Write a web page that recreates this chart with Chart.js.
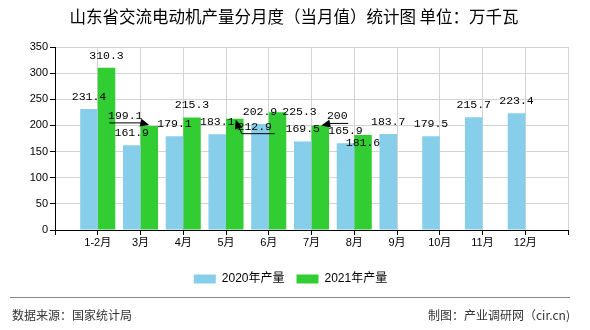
<!DOCTYPE html>
<html>
<head>
<meta charset="utf-8">
<script src="https://cdn.jsdelivr.net/npm/chart.js@4/dist/chart.umd.min.js"></script>
<style>
  html, body { margin: 0; padding: 0; background: #fff; }
  #wrap { width: 590px; height: 330px; position: relative; }
</style>
</head>
<body>
<div id="wrap"><canvas id="grafica" width="590" height="330"></canvas></div>
<script>
// 月份
const meses = ['1-2月', '3月', '4月', '5月', '6月', '7月', '8月', '9月', '10月', '11月', '12月'];
// 产量（万千瓦）
const produccion2020 = [231.4, 161.9, 179.1, 183.1, 202.9, 169.5, 165.9, 183.7, 179.5, 215.7, 223.4];
const produccion2021 = [310.3, 199.1, 215.3, 212.9, 225.3, 200, 181.6];
const ticksY = [0, 50, 100, 150, 200, 250, 300, 350];

const titulo = '山东省交流电动机产量分月度（当月值）统计图 单位：万千瓦';
const fuente = '数据来源：国家统计局';
const autor = '制图：产业调研网（cir.cn)';

// eje x con un hueco vacio a cada lado
const etiquetas = [''].concat(meses, ['']);
const rellenar = arr => {
  const r = [null].concat(arr);
  while (r.length < etiquetas.length) r.push(null);
  return r;
};

// desplazamiento de etiquetas que se solapan (dataset-indice)
const ajustes = {
  '1-1': { dx: -24, dy: 2, flecha: 'izq' },
  '1-3': { dx: 20, dy: 20, flecha: 'abajo' },
  '1-4': { dx: 22, dy: 12 },
  '1-5': { dx: 17, dy: 3, flecha: 'der' },
  '1-6': { dx: 0, dy: 20 }
};

function punta(ctx, x, y, ang) {
  ctx.save();
  ctx.translate(x, y);
  ctx.rotate(ang);
  ctx.beginPath();
  ctx.moveTo(0, 0);
  ctx.lineTo(-9, -4);
  ctx.lineTo(-9, 4);
  ctx.closePath();
  ctx.fill();
  ctx.restore();
}

const etiquetasValor = {
  id: 'etiquetasValor',
  afterDatasetsDraw(chart) {
    const ctx = chart.ctx;
    ctx.save();
    ctx.font = '11.5px "Liberation Mono", monospace';
    ctx.fillStyle = '#000';
    ctx.strokeStyle = '#000';
    ctx.lineWidth = 1;
    ctx.textAlign = 'center';
    ctx.textBaseline = 'middle';
    chart.data.datasets.forEach((ds, d) => {
      const meta = chart.getDatasetMeta(d);
      meta.data.forEach((el, i) => {
        const v = ds.data[i];
        if (v === null || v === undefined) return;
        const a = ajustes[d + '-' + (i - 1)] || { dx: 0, dy: 0 };
        const x = el.x + a.dx;
        const y = el.y - 12 + a.dy;
        ctx.fillText(String(v), x, y);
        if (a.flecha === 'izq') {
          ctx.beginPath();
          ctx.moveTo(el.x - 40, el.y - 3);
          ctx.lineTo(el.x - 6, el.y - 3);
          ctx.stroke();
          punta(ctx, el.x, el.y - 1, 0.25);
        } else if (a.flecha === 'abajo') {
          ctx.beginPath();
          ctx.moveTo(el.x + 40, el.y + 15);
          ctx.lineTo(el.x + 7, el.y + 15);
          ctx.lineTo(el.x + 3, el.y + 6);
          ctx.stroke();
          punta(ctx, el.x + 1, el.y + 1, -1.9);
        } else if (a.flecha === 'der') {
          ctx.beginPath();
          ctx.moveTo(el.x + 28, el.y - 2);
          ctx.lineTo(el.x + 7, el.y - 2);
          ctx.stroke();
          punta(ctx, el.x + 1, el.y, Math.PI - 0.2);
        }
      });
    });
    ctx.restore();
  }
};

// titulo y pie
const textos = {
  id: 'textos',
  afterDraw(chart) {
    const ctx = chart.ctx;
    ctx.save();
    ctx.fillStyle = '#000';
    ctx.textBaseline = 'middle';
    ctx.textAlign = 'center';
    ctx.font = '16.5px "Noto Sans CJK SC", sans-serif';
    ctx.fillText(titulo, 294, 17);
    ctx.strokeStyle = '#888';
    ctx.lineWidth = 1;
    ctx.beginPath();
    ctx.moveTo(10, 297.5);
    ctx.lineTo(570, 297.5);
    ctx.stroke();
    ctx.fillStyle = '#333';
    ctx.font = '12px "Noto Sans CJK SC", sans-serif';
    ctx.textAlign = 'left';
    ctx.fillText(fuente, 12, 315);
    ctx.textAlign = 'right';
    ctx.fillText(autor, 570, 315);
    ctx.restore();
  }
};

const grafica = document.getElementById('grafica');
var chart = new Chart(grafica, {
  type: 'bar',
  data: {
    labels: etiquetas,
    datasets: [
      {
        label: '2020年产量',
        backgroundColor: '#87CEEB',
        data: rellenar(produccion2020)
      },
      {
        label: '2021年产量',
        backgroundColor: '#32CD32',
        data: rellenar(produccion2021)
      }
    ]
  },
  options: {
    responsive: false,
    animation: false,
    devicePixelRatio: 1,
    categoryPercentage: 0.82,
    barPercentage: 1,
    layout: { padding: { left: 13, right: 22, top: 47, bottom: 35 } },
    plugins: {
      title: { display: false },
      tooltip: { enabled: false },
      legend: {
        position: 'bottom',
        labels: {
          boxWidth: 22,
          boxHeight: 9,
          padding: 12,
          color: '#000',
          font: { size: 12, family: '"Liberation Sans", "Noto Sans CJK SC", sans-serif' }
        }
      }
    },
    scales: {
      x: {
        offset: false,
        grid: { offset: false, color: '#d3d3d3', tickColor: '#000', tickLength: 5 },
        border: { color: '#000' },
        ticks: {
          color: '#000',
          padding: 1,
          maxRotation: 0,
          autoSkip: false,
          font: { size: 11, family: '"Liberation Sans", "Noto Sans CJK SC", sans-serif' }
        },
        afterFit(scale) { scale.height = 31; }
      },
      y: {
        min: 0,
        max: 350,
        afterBuildTicks(scale) { scale.ticks = ticksY.map(v => ({ value: v })); },
        grid: { color: '#d3d3d3', tickColor: '#000', tickLength: 5 },
        border: { color: '#000' },
        ticks: {
          color: '#000',
          padding: 2,
          font: { size: 11, family: '"Liberation Sans", sans-serif' }
        },
        afterFit(scale) { scale.width = 42; }
      }
    }
  },
  plugins: [etiquetasValor, textos]
});
</script>
</body>
</html>
